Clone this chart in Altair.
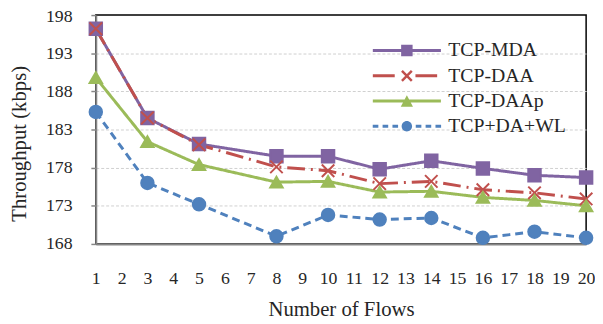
import altair as alt
import pandas as pd

flows = [1, 3, 5, 8, 10, 12, 14, 16, 18, 20]
mda = [196.2, 184.5, 181.1, 179.5, 179.5, 177.8, 178.9, 177.9, 177.0, 176.7]
daa = [196.2, 184.5, 181.0, 178.1, 177.6, 175.9, 176.2, 175.1, 174.7, 173.9]
daap = [189.8, 181.4, 178.4, 176.1, 176.2, 174.8, 174.9, 174.1, 173.7, 173.0]
wl = [185.3, 176.0, 173.2, 169.0, 171.8, 171.2, 171.4, 168.8, 169.6, 168.8]

series = ["TCP-MDA", "TCP-DAA", "TCP-DAAp", "TCP+DA+WL"]
colors = ["#8064A2", "#C0504D", "#9BBB59", "#4F81BD"]
fills = ["#8064A2", "transparent", "#9BBB59", "#4F81BD"]
dashes = [[1, 0], [18, 6, 2, 6], [1, 0], [8, 5]]
xpath = "M-1,-1L1,1M-1,1L1,-1"
shapes = ["square", xpath, "triangle-up", "circle"]

# legend glyphs (line segment + marker), in symbol units (size 400 -> 1 unit = 10px)
def rect(x0, x1, h=0.15):
    return f"M{x0},{-h}L{x1},{-h}L{x1},{h}L{x0},{h}Z"

LINE = rect(-3.45, 3.45)
leg_mda = LINE + "M-0.58,-0.58L0.58,-0.58L0.58,0.58L-0.58,0.58Z"
leg_daa = (rect(-3.45, -1.23) + rect(0.87, 3.07)
           + "M-0.588,-0.412L-0.412,-0.588L0.588,0.412L0.412,0.588Z"
           + "M-0.412,0.588L-0.588,0.412L0.412,-0.588L0.588,-0.412Z")
leg_daap = LINE + "M0,-0.6L0.62,0.58L-0.62,0.58Z"
leg_wl = ("".join(rect(a, a + 0.57) for a in [-3.46, -2.46, -1.46, 0.9, 1.9, 2.9])
          + "M-0.53,0A0.53,0.53 0 1,1 0.53,0A0.53,0.53 0 1,1 -0.53,0Z")
legend_shapes = [leg_mda, leg_daa, leg_daap, leg_wl]

rows = []
for name, vals in zip(series, [mda, daa, daap, wl]):
    for f, v in zip(flows, vals):
        rows.append({"flows": f, "value": v, "series": name, "series_l": name})
df = pd.DataFrame(rows)

FONT = "Liberation Serif, Times New Roman, serif"
TXT = "#262626"

x_enc = alt.X(
    "flows:Q",
    scale=alt.Scale(domain=[1, 20], nice=False),
    axis=alt.Axis(
        values=list(range(1, 21)), grid=False, ticks=False,
        domainColor="#868686", domainWidth=2,
        labelFont=FONT, labelFontSize=18, labelColor=TXT,
        labelPadding=40, labelBaseline="alphabetic", labelOverlap=False, labelFlush=False,
        title="Number of Flows", titleFont=FONT, titleFontSize=21, titleFontWeight="normal",
        titleColor=TXT, titleY=73, titleBaseline="alphabetic",
    ),
)
y_enc = alt.Y(
    "value:Q",
    scale=alt.Scale(domain=[168, 198], nice=False, zero=False),
    axis=alt.Axis(
        values=list(range(168, 199, 5)), grid=True,
        gridColor={"condition": {"test": "datum.value >= 198 || datum.value <= 168", "value": "transparent"}, "value": "#cfcfcf"},
        gridDash=[3, 2], gridWidth=1,
        domainColor="#868686", domainWidth=2,
        tickColor="#868686", tickSize=5, tickWidth=1.5,
        labelFont=FONT, labelFontSize=18, labelColor=TXT, labelPadding=19,
        labelOffset={"condition": {"test": "datum.value >= 198", "value": 1.5}, "value": 0},
        title="Throughput (kbps)", titleFont=FONT, titleFontSize=21, titleFontWeight="normal",
        titleColor=TXT, titleX=-77, titleY=130, titleAlign="center", titleBaseline="middle",
    ),
)

leg = dict(title=None, orient="none", legendX=305.3, legendY=26, padding=0, rowPadding=5.6,
           symbolSize=400, symbolStrokeWidth=0, symbolOpacity=1,
           labelFont=FONT, labelFontSize=20, labelColor=TXT, labelOffset=32)

base = alt.Chart(df)
lines = base.mark_line(strokeWidth=3).encode(
    x=x_enc, y=y_enc,
    color=alt.Color("series:N", scale=alt.Scale(domain=series, range=colors), legend=None),
    strokeDash=alt.StrokeDash("series:N", scale=alt.Scale(domain=series, range=dashes), legend=None),
)
points = base.mark_point(size=160, strokeWidth=2, opacity=1).encode(
    x=x_enc, y=y_enc,
    shape=alt.Shape("series:N", scale=alt.Scale(domain=series, range=shapes), legend=None),
    fill=alt.Fill("series:N", scale=alt.Scale(domain=series, range=fills), legend=None),
    stroke=alt.Stroke("series:N", scale=alt.Scale(domain=series, range=colors), legend=None),
)
legend_layer = base.transform_filter("false").mark_point(filled=True, size=400).encode(
    x=x_enc, y=y_enc,
    shape=alt.Shape("series_l:N", scale=alt.Scale(domain=series, range=legend_shapes),
                    legend=alt.Legend(**leg)),
    color=alt.Color("series_l:N", scale=alt.Scale(domain=series, range=colors),
                    legend=alt.Legend(**leg)),
)

chart = alt.layer(lines, points, legend_layer).resolve_scale(
    color="independent", shape="independent"
).properties(
    width=497, height=232,
    autosize=alt.AutoSizeParams(type="none"),
    padding={"left": 89, "top": 5, "right": 9, "bottom": 79},
).configure_view(stroke="black", strokeWidth=1.5)

chart.save("out.html", embed_options={"renderer": "svg", "actions": False})
